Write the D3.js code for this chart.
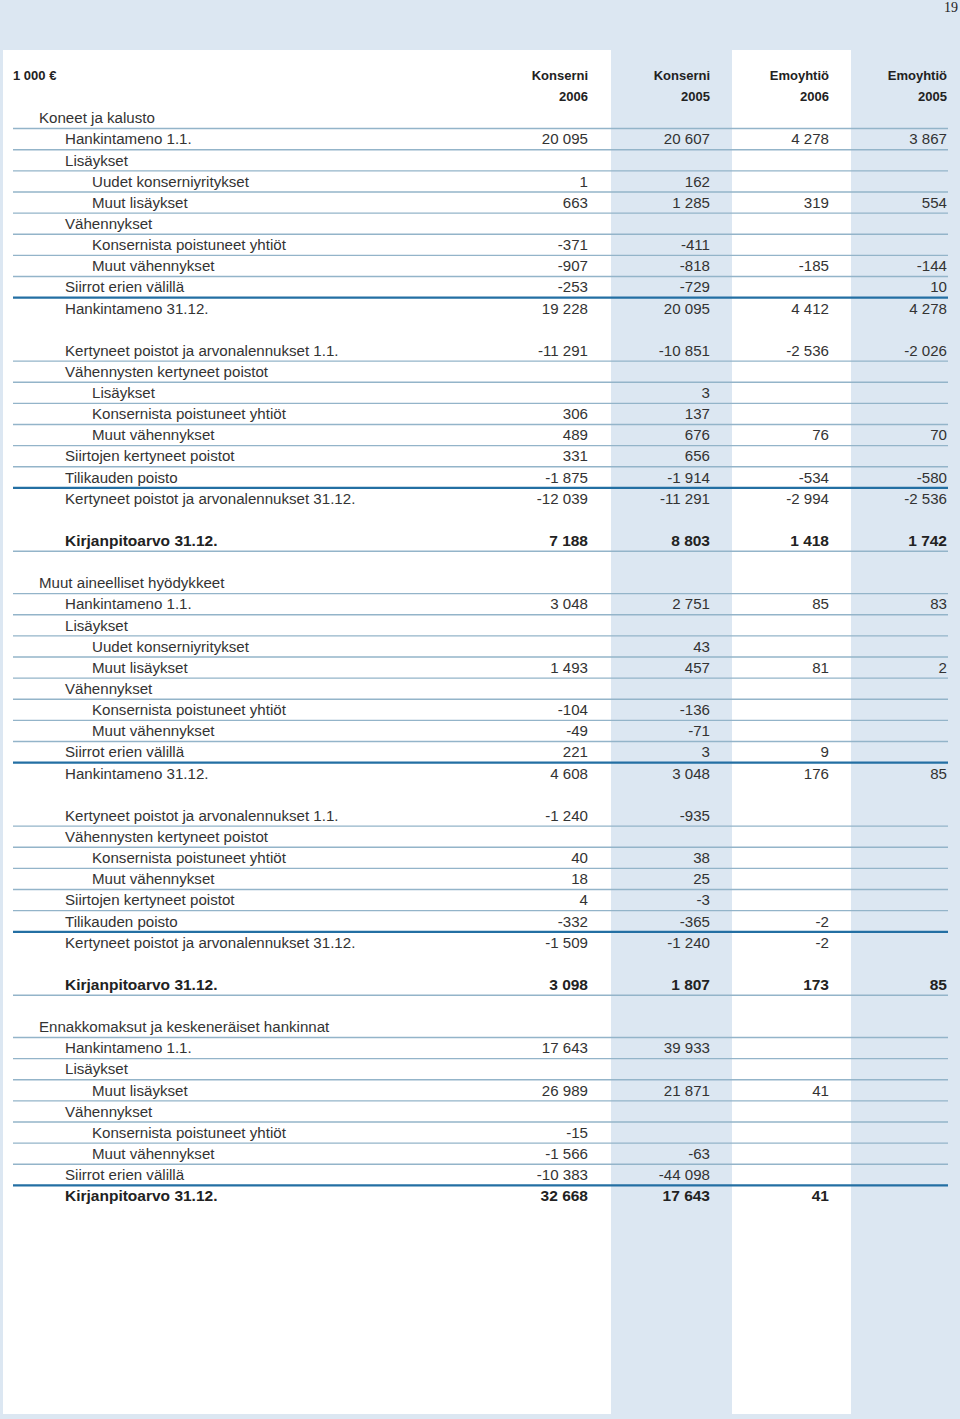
<!DOCTYPE html>
<html>
<head>
<meta charset="utf-8">
<script src="https://cdn.jsdelivr.net/npm/d3@7"></script>
<style>
  body { margin: 0; background: #dce7f2; }
  svg { display: block; }
</style>
</head>
<body>
<script>
// column headers
var colNames = ["Konserni", "Konserni", "Emoyhtiö", "Emoyhtiö"];
var colYears = ["2006", "2005", "2006", "2005"];

// row labels, indent level and kind ("sum" gets the dark rule above it)
var labels = [
  "Koneet ja kalusto", "Hankintameno 1.1.", "Lisäykset", "Uudet konserniyritykset", "Muut lisäykset",
  "Vähennykset", "Konsernista poistuneet yhtiöt", "Muut vähennykset", "Siirrot erien välillä", "Hankintameno 31.12.",
  "",
  "Kertyneet poistot ja arvonalennukset 1.1.", "Vähennysten kertyneet poistot", "Lisäykset", "Konsernista poistuneet yhtiöt",
  "Muut vähennykset", "Siirtojen kertyneet poistot", "Tilikauden poisto", "Kertyneet poistot ja arvonalennukset 31.12.",
  "",
  "Kirjanpitoarvo 31.12.",
  "",
  "Muut aineelliset hyödykkeet", "Hankintameno 1.1.", "Lisäykset", "Uudet konserniyritykset", "Muut lisäykset",
  "Vähennykset", "Konsernista poistuneet yhtiöt", "Muut vähennykset", "Siirrot erien välillä", "Hankintameno 31.12.",
  "",
  "Kertyneet poistot ja arvonalennukset 1.1.", "Vähennysten kertyneet poistot", "Konsernista poistuneet yhtiöt",
  "Muut vähennykset", "Siirtojen kertyneet poistot", "Tilikauden poisto", "Kertyneet poistot ja arvonalennukset 31.12.",
  "",
  "Kirjanpitoarvo 31.12.",
  "",
  "Ennakkomaksut ja keskeneräiset hankinnat", "Hankintameno 1.1.", "Lisäykset", "Muut lisäykset",
  "Vähennykset", "Konsernista poistuneet yhtiöt", "Muut vähennykset", "Siirrot erien välillä", "Kirjanpitoarvo 31.12."
];
var levels = [
  0,1,1,2,2, 1,2,2,1,1, 0,
  1,1,2,2, 2,1,1,1, 0,
  1, 0,
  0,1,1,2,2, 1,2,2,1,1, 0,
  1,1,2, 2,1,1,1, 0,
  1, 0,
  0,1,1,2, 1,2,2,1,1
];
var kinds = [
  "","","","","", "","","","","sum", "blank",
  "","","","", "","","","sum", "blank",
  "bold", "blank",
  "","","","","", "","","","","sum", "blank",
  "","","", "","","","sum", "blank",
  "bold", "blank",
  "","","","", "","","","","boldsum"
];

// values per column (null = empty cell)
var konserni2006 = [
  null,20095,null,1,663, null,-371,-907,-253,19228, null,
  -11291,null,null,306, 489,331,-1875,-12039, null,
  7188, null,
  null,3048,null,null,1493, null,-104,-49,221,4608, null,
  -1240,null,40, 18,4,-332,-1509, null,
  3098, null,
  null,17643,null,26989, null,-15,-1566,-10383,32668
];
var konserni2005 = [
  null,20607,null,162,1285, null,-411,-818,-729,20095, null,
  -10851,null,3,137, 676,656,-1914,-11291, null,
  8803, null,
  null,2751,null,43,457, null,-136,-71,3,3048, null,
  -935,null,38, 25,-3,-365,-1240, null,
  1807, null,
  null,39933,null,21871, null,null,-63,-44098,17643
];
var emo2006 = [
  null,4278,null,null,319, null,null,-185,null,4412, null,
  -2536,null,null,null, 76,null,-534,-2994, null,
  1418, null,
  null,85,null,null,81, null,null,null,9,176, null,
  null,null,null, null,null,-2,-2, null,
  173, null,
  null,null,null,41, null,null,null,null,41
];
var emo2005 = [
  null,3867,null,null,554, null,null,-144,10,4278, null,
  -2026,null,null,null, 70,null,-580,-2536, null,
  1742, null,
  null,83,null,null,2, null,null,null,null,85, null,
  null,null,null, null,null,null,null, null,
  85, null,
  null,null,null,null, null,null,null,null,null
];

function draw_table(){
  var width = 960, height = 1419;
  var bg = "#dce7f2", ink = "#333";
  var thin = "#93b4c9", thick = "#236fa3";
  var font = "'Liberation Sans', Arial, sans-serif";

  var series = [konserni2006, konserni2005, emo2006, emo2005];

  var svg = d3.select("body").append("svg")
      .attr("width", width)
      .attr("height", height);

  svg.append("rect").attr("width", width).attr("height", height).attr("fill", bg);

  // white panels, blue columns show through between them
  svg.append("rect").attr("x", 3).attr("y", 50).attr("width", 608).attr("height", 1364).attr("fill", "#fff");
  svg.append("rect").attr("x", 732).attr("y", 50).attr("width", 119).attr("height", 1364).attr("fill", "#fff");

  svg.append("text").attr("x", 958).attr("y", 12)
      .attr("text-anchor", "end")
      .style("font-family", "'Liberation Serif', 'Times New Roman', serif")
      .style("font-size", "14px").attr("fill", "#222")
      .text("19");

  // row index -> row centre (two header rows are -2 and -1)
  var y = d3.scaleLinear().domain([0, labels.length - 1]).range([118, 1196]);
  var rowH = y(1) - y(0);
  var xCol = d3.scaleOrdinal().domain([0, 1, 2, 3]).range([588, 710, 829, 947]);
  var xIndent = d3.scaleOrdinal().domain([0, 1, 2]).range([39, 65, 92]);

  var fmt = d3.formatLocale({decimal: ",", thousands: " ", grouping: [3], currency: ["", ""], minus: "-"}).format(",d");

  // rules
  var rules = [];
  labels.forEach(function(l, i) {
    if (kinds[i] == "blank" || i == labels.length - 1) return;
    var next = kinds[i + 1];
    if (next == "sum" || next == "boldsum") rules.push({i: i, heavy: true});
    else if (next != "blank" || kinds[i] == "bold") rules.push({i: i, heavy: false});
  });

  svg.selectAll("line.rule")
    .data(rules)
    .enter().append("line")
      .attr("class", "rule")
      .attr("x1", 13).attr("x2", 948)
      .attr("y1", function(d) { return y(d.i) + rowH / 2; })
      .attr("y2", function(d) { return y(d.i) + rowH / 2; })
      .attr("stroke", function(d) { return d.heavy ? thick : thin; })
      .attr("stroke-width", function(d) { return d.heavy ? 2.2 : 1.4; });

  // header
  var head = svg.append("g")
      .style("font-family", font).style("font-weight", "bold")
      .style("font-size", "13px").attr("fill", "#222");
  head.append("text").attr("x", 13).attr("y", y(-2)).attr("dy", "0.35em").text("1 000 €");
  head.selectAll("text.name").data(colNames).enter().append("text")
      .attr("class", "name")
      .attr("x", function(d, i) { return xCol(i); })
      .attr("y", y(-2)).attr("dy", "0.35em")
      .attr("text-anchor", "end").text(function(d) { return d; });
  head.selectAll("text.year").data(colYears).enter().append("text")
      .attr("class", "year")
      .attr("x", function(d, i) { return xCol(i); })
      .attr("y", y(-1)).attr("dy", "0.35em")
      .attr("text-anchor", "end").text(function(d) { return d; });

  // body rows
  var row = svg.selectAll("g.row")
    .data(labels)
    .enter().append("g")
      .attr("class", "row")
      .attr("transform", function(d, i) { return "translate(0," + y(i) + ")"; })
      .style("font-family", font)
      .style("font-size", function(d, i) { return kinds[i].indexOf("bold") == 0 ? "15.5px" : "15.1px"; })
      .style("font-weight", function(d, i) { return kinds[i].indexOf("bold") == 0 ? "bold" : "normal"; })
      .attr("fill", function(d, i) { return kinds[i].indexOf("bold") == 0 ? "#222" : ink; });

  row.append("text")
      .attr("x", function(d, i) { return xIndent(levels[i]); })
      .attr("dy", "0.35em")
      .text(function(d) { return d; });

  row.selectAll("text.val")
    .data(function(d, i) { return series.map(function(s, c) { return {c: c, v: s[i]}; }); })
    .enter().append("text")
      .attr("class", "val")
      .attr("x", function(d) { return xCol(d.c); })
      .attr("dy", "0.35em")
      .attr("text-anchor", "end")
      .text(function(d) { return d.v == null ? "" : fmt(d.v); });
}

draw_table();
</script>
</body>
</html>
